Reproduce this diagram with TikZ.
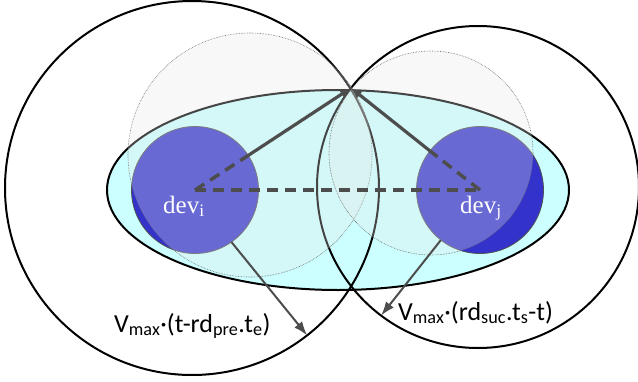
\documentclass[tikz,border=0pt]{standalone}
\usepackage{fontspec}
\setmainfont{Carlito}
\newfontfamily\devfont{Liberation Serif}
\usepackage{xcolor}
\usepackage{tikz}
\usetikzlibrary{arrows.meta,shapes.geometric}
\definecolor{cZone}{HTML}{CCFFFF}
\definecolor{cDev}{HTML}{3333CC}
\definecolor{cGhost}{HTML}{E7E7E7}
\definecolor{cLine}{HTML}{4D4D4D}
\definecolor{cRim}{HTML}{505050}
\tikzset{
  zone/.style  ={draw=black, ellipse, line width=2pt, fill=cZone, inner sep=0pt, outer sep=0pt},
  reach/.style ={draw=black, circle, line width=2pt, inner sep=0pt, outer sep=0pt},
  dev/.style   ={draw=cRim, circle, line width=0.8pt, fill=cDev, inner sep=0pt, outer sep=0pt, minimum size=127pt},
  ghost/.style ={draw=black!60, circle, densely dotted, line width=0.6pt, fill=cGhost, fill opacity=0.3,
                 inner sep=0pt, outer sep=0pt},
  arrow/.style ={-{Latex[length=11pt,width=9pt]}, line width=3.2pt, draw=cLine},
  darrow/.style={line width=3.5pt, draw=cLine, dash pattern=on 11pt off 7pt},
  rarrow/.style={-{Latex[length=14pt,width=10pt]}, line width=2pt, draw=cLine},
  devlbl/.style={font=\devfont\fontsize{25}{28}\selectfont, text=white, inner sep=0pt, anchor=base west},
  lbl/.style   ={font=\fontsize{26}{29}\selectfont, inner sep=0pt, anchor=base west},
}
\begin{document}
\begin{tikzpicture}[x=1pt, y=-1pt]
        \path[use as bounding box] (0,0) rectangle (638,381);
        \node[zone, minimum width=462pt, minimum height=200pt] (area) at (338,190) {};
        \node[reach, minimum size=374pt] (reachi) at (192,188) {};
        \node[reach, minimum size=322pt] (reachj) at (478,187) {};
        \node[dev] (devi) at (195,190) {};
        \node[dev] (devj) at (480,190) {};
        \node[ghost, minimum size=244pt] (ghosti) at (250,155) {};
        \node[ghost, minimum size=204pt] (ghostj) at (431,153) {};
        \coordinate (apex) at (351,88);
        \draw[darrow] (devi.center) -- (devj.center);
        \draw[darrow] (devi.center) -- (devi.33);
        \draw[darrow] (devj.center) -- (devj.142);
        \draw[arrow] (devi.33) -- (apex);
        \draw[arrow] (devj.142) -- (apex);
        \draw[rarrow] (devi.-55) -- (reachi.-52);
        \draw[rarrow] (devj.-128) -- (reachj.-127);
        \node[devlbl] (namei) at (163,213) {dev\textsubscript{i}};
        \node[devlbl] (namej) at (460,213) {dev\textsubscript{j}};
        \node[lbl] (boundi) at (114,332) {V\textsubscript{max}·(t-rd\textsubscript{pre}.t\textsubscript{e})};
        \node[lbl] (boundj) at (398,320) {V\textsubscript{max}·(rd\textsubscript{suc}.t\textsubscript{s}-t)};
      \end{tikzpicture}
\end{document}
